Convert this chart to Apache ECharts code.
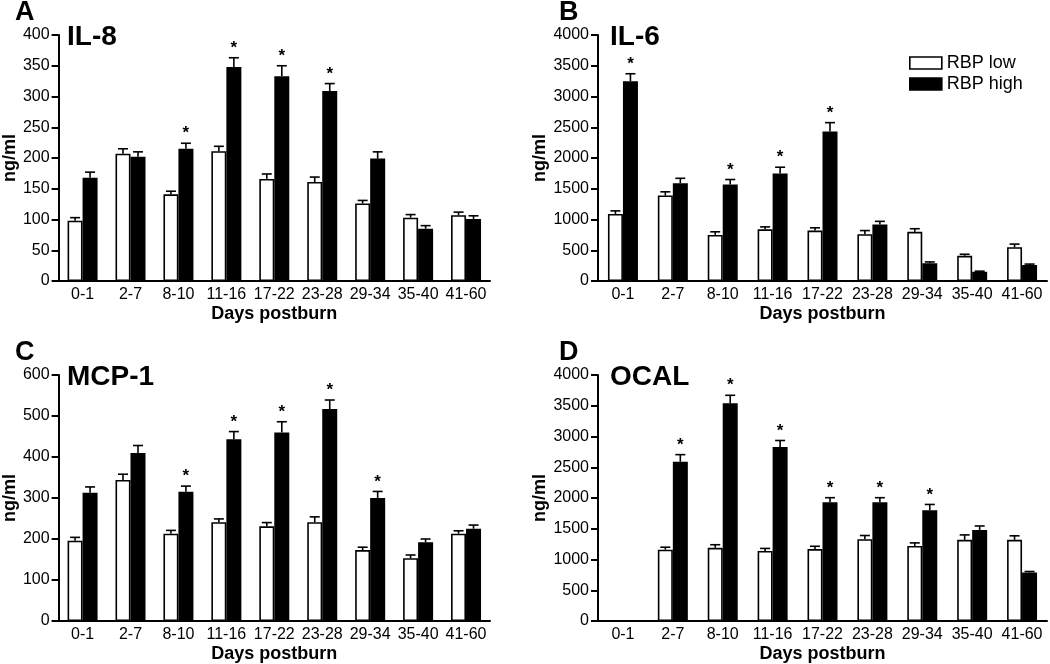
<!DOCTYPE html>
<html>
<head>
<meta charset="utf-8">
<script src="https://cdn.jsdelivr.net/npm/echarts@6/dist/echarts.min.js"></script>
<style>
html,body{margin:0;padding:0;background:#fff;}
#chart{width:1050px;height:664px;}
</style>
</head>
<body>
<div id="chart"></div>
<script>
const categories = ['0-1','2-7','8-10','11-16','17-22','23-28','29-34','35-40','41-60'];
const seriesNames = ['RBP low','RBP high'];

// Panel A: IL-8
const il8Low = [98,207,141,211,166,161,126,103,107];
const il8LowErr = [5,8,5,8,8,8,5,5,5];
const il8High = [168,202,215,348,333,309,199,85,101];
const il8HighErr = [9,8,9,15,17,12,11,5,5];
const il8Sig = [2,3,4,5];

// Panel B: IL-6
const il6Low = [1090,1390,750,840,820,760,800,410,550];
const il6LowErr = [50,60,50,40,45,60,50,25,50];
const il6High = [3250,1590,1570,1750,2430,920,290,150,260];
const il6HighErr = [120,80,80,100,145,50,20,10,15];
const il6Sig = [0,2,3,4];

// Panel C: MCP-1
const mcp1Low = [196,344,213,241,231,241,173,153,213];
const mcp1LowErr = [8,14,8,8,9,13,7,8,7];
const mcp1High = [313,410,315,443,460,517,300,192,225];
const mcp1HighErr = [14,18,14,19,26,22,16,8,9];
const mcp1Sig = [2,3,4,5,6];

// Panel D: OCAL
const ocalLow = [null,1160,1190,1140,1170,1330,1220,1320,1320];
const ocalLowErr = [null,40,50,40,45,60,50,80,65];
const ocalHigh = [null,2590,3540,2830,1930,1930,1800,1480,790];
const ocalHighErr = [null,115,130,105,75,75,95,65,15];
const ocalSig = [1,2,3,4,5,6];

const panels = [
  {letter:'A', title:'IL-8', low:il8Low, lowErr:il8LowErr, high:il8High, highErr:il8HighErr, sig:il8Sig, max:400, interval:50,
   grid:{left:56, top:35, width:434, height:246}, letterPos:[15,-1], titlePos:[67,23]},
  {letter:'B', title:'IL-6', low:il6Low, lowErr:il6LowErr, high:il6High, highErr:il6HighErr, sig:il6Sig, max:4000, interval:500,
   grid:{left:598, top:35, width:449, height:246}, letterPos:[559,-1], titlePos:[610,23]},
  {letter:'C', title:'MCP-1', low:mcp1Low, lowErr:mcp1LowErr, high:mcp1High, highErr:mcp1HighErr, sig:mcp1Sig, max:600, interval:100,
   grid:{left:56, top:375, width:434, height:246}, letterPos:[15,339], titlePos:[67,363]},
  {letter:'D', title:'OCAL', low:ocalLow, lowErr:ocalLowErr, high:ocalHigh, highErr:ocalHighErr, sig:ocalSig, max:4000, interval:500,
   grid:{left:598, top:375, width:449, height:246}, letterPos:[559,339], titlePos:[610,363]}
];

const FONT = '"Liberation Sans", Arial, sans-serif';
const BAR_W = 15;

function errSeries(vals, errs, sig, offset, gi) {
  const data = vals.map((v, i) => [i, v, errs[i], sig.indexOf(i) >= 0 ? 1 : 0]);
  return {
    type: 'custom',
    xAxisIndex: gi, yAxisIndex: gi,
    silent: true,
    z: 3,
    encode: {x: 0, y: 1},
    data: data,
    renderItem: function (params, api) {
      const v = api.value(1);
      if (v === null || v === undefined || isNaN(v)) return null;
      const idx = api.value(0);
      const e = api.value(2);
      const s = api.value(3);
      const base = api.coord([idx, v]);
      const top = api.coord([idx, v + e]);
      const x = base[0] + offset;
      const children = [
        {type:'line', shape:{x1:x, y1:base[1], x2:x, y2:top[1]}, style:{stroke:'#000', lineWidth:1.6}},
        {type:'line', shape:{x1:x-5, y1:top[1], x2:x+5, y2:top[1]}, style:{stroke:'#000', lineWidth:1.6}}
      ];
      if (s) {
        children.push({type:'text', style:{text:'*', x:x, y:top[1]-1, align:'center', verticalAlign:'bottom',
          font:'bold 17px ' + FONT, fill:'#000'}});
      }
      return {type:'group', children: children};
    }
  };
}

const grids = [], xAxes = [], yAxes = [], series = [], titles = [];
panels.forEach((p, gi) => {
  grids.push(Object.assign({containLabel:false}, p.grid));
  xAxes.push({
    type:'category', gridIndex:gi, data:categories,
    axisLine:{lineStyle:{color:'#000', width:2}},
    axisTick:{show:false},
    axisLabel:{color:'#000', fontSize:16, fontFamily:FONT, margin:6, interval:0},
    name:'Days postburn', nameLocation:'middle', nameGap:24,
    nameTextStyle:{color:'#000', fontSize:18, fontWeight:'bold', fontFamily:FONT}
  });
  yAxes.push({
    type:'value', gridIndex:gi, min:0, max:p.max, interval:p.interval,
    axisLine:{show:true, lineStyle:{color:'#000', width:2}},
    axisTick:{show:true, length:7, lineStyle:{color:'#000', width:2}},
    axisLabel:{color:'#000', fontSize:16, fontFamily:FONT, margin:9, formatter:function(v){return String(v);}},
    splitLine:{show:false},
    name:'ng/ml', nameLocation:'middle', nameGap:26, nameRotate:90,
    nameTextStyle:{color:'#000', fontSize:18, fontWeight:'bold', fontFamily:FONT}
  });
  series.push({
    name:seriesNames[0], type:'bar', xAxisIndex:gi, yAxisIndex:gi, data:p.low,
    barWidth:BAR_W, barGap:'0%',
    itemStyle:{color:'#fff', borderColor:'#000', borderWidth:1.6},
    silent:true
  });
  series.push({
    name:seriesNames[1], type:'bar', xAxisIndex:gi, yAxisIndex:gi, data:p.high,
    barWidth:BAR_W, barGap:'0%',
    itemStyle:{color:'#000', borderColor:'#000', borderWidth:1.6},
    silent:true
  });
  series.push(errSeries(p.low, p.lowErr, [], -BAR_W/2, gi));
  series.push(errSeries(p.high, p.highErr, p.sig, BAR_W/2, gi));
  titles.push({text:p.letter, left:p.letterPos[0], top:p.letterPos[1], padding:0,
    textStyle:{color:'#000', fontSize:27, fontWeight:'bold', fontFamily:FONT}});
  titles.push({text:p.title, left:p.titlePos[0], top:p.titlePos[1], padding:0,
    textStyle:{color:'#000', fontSize:28, fontWeight:'bold', fontFamily:FONT}});
});

const chart = echarts.init(document.getElementById('chart'), null, {renderer:'canvas'});
chart.setOption({
  backgroundColor:'#fff',
  animation:false,
  title:titles,
  legend:{
    orient:'vertical', left:904, top:49, itemWidth:32, itemHeight:12, itemGap:3,
    textStyle:{color:'#000', fontSize:18, fontFamily:FONT},
    data:[
      {name:seriesNames[0], icon:'rect', itemStyle:{color:'#fff', borderColor:'#000', borderWidth:1.6}},
      {name:seriesNames[1], icon:'rect', itemStyle:{color:'#000', borderColor:'#000', borderWidth:1.6}}
    ],
    selectedMode:false
  },
  grid:grids, xAxis:xAxes, yAxis:yAxes, series:series
});
</script>
</body>
</html>
